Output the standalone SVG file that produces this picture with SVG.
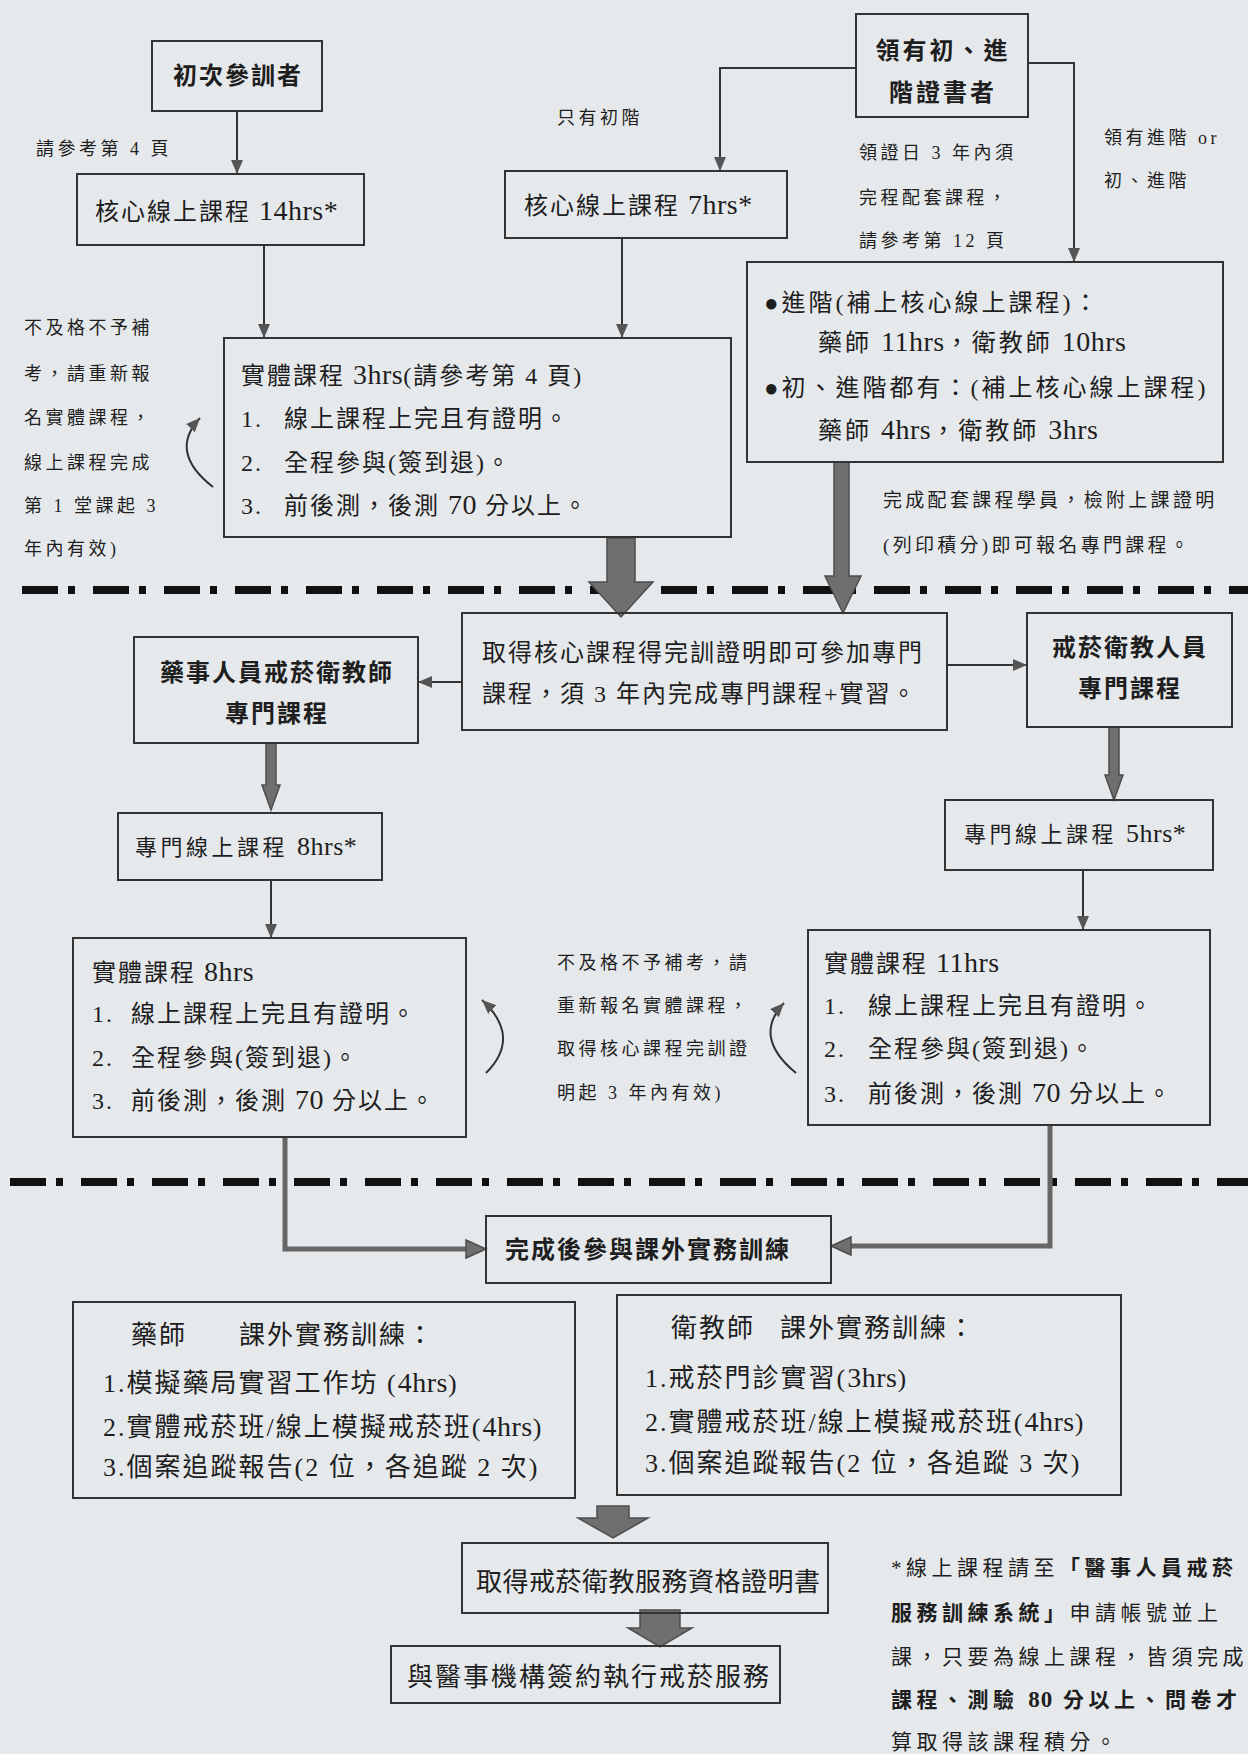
<svg xmlns="http://www.w3.org/2000/svg" width="1248" height="1754" viewBox="0 0 1248 1754">
<defs>
<style>
.box{fill:none;stroke:#333;stroke-width:2}
.t{font-family:"Liberation Serif","Noto Sans CJK TC",serif;fill:#1e1e1e}
.m{font-size:24px;letter-spacing:2px}
.m3{font-size:24px;letter-spacing:3px}
.p{font-size:26px;letter-spacing:2px}
.o{font-size:22px;letter-spacing:3.5px}
.s{font-size:18px;letter-spacing:3.5px}
.s2{font-size:19px;letter-spacing:3.3px}
.f{font-size:21px;letter-spacing:4.5px}
.b{font-weight:bold}
.L{font-size:28px;letter-spacing:0.5px}
.Lo{font-size:26px;letter-spacing:0.5px}
.Lf{font-size:23px;letter-spacing:1px}
.ln{fill:none;stroke:#333;stroke-width:2}
.gl{fill:none;stroke:#666;stroke-width:5}
.gr{fill:#6f6f6f;stroke:#4d4d4d;stroke-width:1.5}
.dash{fill:none;stroke:#111;stroke-width:8;stroke-dasharray:36 10 7 18}
.mid{text-anchor:middle}
</style>
<marker id="ah" markerWidth="14" markerHeight="12" refX="14" refY="6" orient="auto" markerUnits="userSpaceOnUse">
<path d="M0,0 L14,6 L0,12 z" fill="#555"/>
</marker>
</defs>
<rect x="0" y="0" width="1248" height="1754" fill="#e6e9ec"/>

<g id="separators">
<line class="dash" x1="22" y1="590" x2="1248" y2="590"/>
<line class="dash" x1="10" y1="1182" x2="1248" y2="1182"/>
</g>

<g id="connectors">
<path class="ln" d="M237,111 V174" marker-end="url(#ah)"/>
<path class="ln" d="M856,68 H720 V171" marker-end="url(#ah)"/>
<path class="ln" d="M1028,63 H1074 V262" marker-end="url(#ah)"/>
<path class="ln" d="M264,245 V338" marker-end="url(#ah)"/>
<path class="ln" d="M622,238 V338" marker-end="url(#ah)"/>
<path class="gr" d="M607,538 H635 V582 H653 L621,617 L589,582 H607 Z"/>
<path class="gr" d="M834,462 H849 V576 H861 L843,613 L825,576 H834 Z"/>
<path class="ln" d="M462,682 H418" marker-end="url(#ah)"/>
<path class="ln" d="M947,665 H1027" marker-end="url(#ah)"/>
<path class="gr" d="M266,743 H276 V785 H280 L271,810 L262,785 H266 Z"/>
<path class="gr" d="M1109,727 H1119 V775 H1123 L1114,800 L1105,775 H1109 Z"/>
<path class="ln" d="M271,880 V938" marker-end="url(#ah)"/>
<path class="ln" d="M1083,870 V930" marker-end="url(#ah)"/>
<path class="ln" d="M213,487 Q168,452 200,418" marker-end="url(#ah)"/>
<path class="ln" d="M486,1073 Q522,1037 482,1000" marker-end="url(#ah)"/>
<path class="ln" d="M796,1073 Q752,1037 784,1003" marker-end="url(#ah)"/>
<path class="gl" d="M285,1137 V1249 H470"/>
<path class="gr" d="M466,1240 L486,1249 L466,1258 Z"/>
<path class="gl" d="M1050,1125 V1246 H847"/>
<path class="gr" d="M851,1237 L831,1246 L851,1255 Z"/>
<path class="gr" d="M597,1506 H629 V1518 H648 L613,1538 L578,1518 H597 Z"/>
<path class="gr" d="M640,1610 H680 V1628 H692 L660,1647 L628,1628 H640 Z"/>
</g>

<g id="n_first">
<rect class="box" x="152" y="41" width="170" height="70"/>
<text class="t m b mid" x="238" y="84">初次參訓者</text>
</g>
<g id="n_cert">
<rect class="box" x="856" y="14" width="172" height="103"/>
<text class="t m3 b mid" x="943" y="59">領有初、進</text>
<text class="t m3 b mid" x="943" y="101">階證書者</text>
</g>
<g id="n_core14">
<rect class="box" x="77" y="174" width="287" height="71"/>
<text class="t m" x="95" y="220">核心線上課程 <tspan class="L">14hrs*</tspan></text>
</g>
<g id="n_core7">
<rect class="box" x="505" y="171" width="282" height="67"/>
<text class="t m" x="524" y="214">核心線上課程 <tspan class="L">7hrs*</tspan></text>
</g>
<g id="n_phys3">
<rect class="box" x="224" y="338" width="507" height="199"/>
<text class="t m" x="241" y="384">實體課程 <tspan class="L">3hrs</tspan>(請參考第 4 頁)</text>
<text class="t m" x="241" y="427">1.<tspan x="284">線上課程上完且有證明。</tspan></text>
<text class="t m" x="241" y="471">2.<tspan x="284">全程參與(簽到退)。</tspan></text>
<text class="t m" x="241" y="514">3.<tspan x="284">前後測，後測 </tspan><tspan class="L">70</tspan> 分以上。</text>
</g>
<g id="n_supp">
<rect class="box" x="747" y="262" width="476" height="200"/>
<text class="t m3" x="764" y="311">●進階(補上核心線上課程)：</text>
<text class="t m3" x="818" y="351">藥師 <tspan class="L">11hrs</tspan>，衛教師 <tspan class="L">10hrs</tspan></text>
<text class="t m3" x="764" y="396">●初、進階都有：(補上核心線上課程)</text>
<text class="t m3" x="818" y="439">藥師 <tspan class="L">4hrs</tspan>，衛教師 <tspan class="L">3hrs</tspan></text>
</g>
<g id="n_gate">
<rect class="box" x="462" y="613" width="485" height="117"/>
<text class="t m" x="482" y="661">取得核心課程得完訓證明即可參加專門</text>
<text class="t m" x="482" y="702">課程，須 3 年內完成專門課程+實習。</text>
</g>
<g id="n_pharm">
<rect class="box" x="134" y="637" width="284" height="106"/>
<text class="t m b mid" x="277" y="681">藥事人員戒菸衛教師</text>
<text class="t m b mid" x="277" y="722">專門課程</text>
</g>
<g id="n_edu">
<rect class="box" x="1027" y="613" width="205" height="114"/>
<text class="t m b mid" x="1130" y="656">戒菸衛教人員</text>
<text class="t m b mid" x="1130" y="697">專門課程</text>
</g>
<g id="n_on8">
<rect class="box" x="118" y="813" width="264" height="67"/>
<text class="t o" x="135" y="855">專門線上課程 <tspan class="Lo">8hrs*</tspan></text>
</g>
<g id="n_on5">
<rect class="box" x="945" y="800" width="268" height="70"/>
<text class="t o" x="964" y="842">專門線上課程 <tspan class="Lo">5hrs*</tspan></text>
</g>
<g id="n_phys8">
<rect class="box" x="73" y="938" width="393" height="199"/>
<text class="t m" x="92" y="981">實體課程 <tspan class="L">8hrs</tspan></text>
<text class="t m" x="92" y="1022">1.<tspan x="131">線上課程上完且有證明。</tspan></text>
<text class="t m" x="92" y="1066">2.<tspan x="131">全程參與(簽到退)。</tspan></text>
<text class="t m" x="92" y="1109">3.<tspan x="131">前後測，後測 </tspan><tspan class="L">70</tspan> 分以上。</text>
</g>
<g id="n_phys11">
<rect class="box" x="808" y="930" width="402" height="195"/>
<text class="t m" x="824" y="972">實體課程 <tspan class="L">11hrs</tspan></text>
<text class="t m" x="824" y="1014">1.<tspan x="868">線上課程上完且有證明。</tspan></text>
<text class="t m" x="824" y="1057">2.<tspan x="868">全程參與(簽到退)。</tspan></text>
<text class="t m" x="824" y="1102">3.<tspan x="868">前後測，後測 </tspan><tspan class="L">70</tspan> 分以上。</text>
</g>
<g id="n_practice">
<rect class="box" x="486" y="1216" width="345" height="67"/>
<text class="t m b" x="505" y="1258">完成後參與課外實務訓練</text>
</g>
<g id="n_pharmprac">
<rect class="box" x="73" y="1302" width="502" height="196"/>
<text class="t p" x="131" y="1344">藥師<tspan x="239">課外實務訓練：</tspan></text>
<text class="t p" x="103" y="1392">1.模擬藥局實習工作坊 (<tspan class="L">4hrs</tspan>)</text>
<text class="t p" x="103" y="1436">2.實體戒菸班/線上模擬戒菸班(<tspan class="L">4hrs</tspan>)</text>
<text class="t p" x="103" y="1476">3.個案追蹤報告(2 位，各追蹤 2 次)</text>
</g>
<g id="n_eduprac">
<rect class="box" x="617" y="1295" width="504" height="200"/>
<text class="t p" x="671" y="1337">衛教師<tspan x="780">課外實務訓練：</tspan></text>
<text class="t p" x="645" y="1387">1.戒菸門診實習(<tspan class="L">3hrs</tspan>)</text>
<text class="t p" x="645" y="1431">2.實體戒菸班/線上模擬戒菸班(<tspan class="L">4hrs</tspan>)</text>
<text class="t p" x="645" y="1472">3.個案追蹤報告(2 位，各追蹤 3 次)</text>
</g>
<g id="n_final">
<rect class="box" x="462" y="1543" width="366" height="70"/>
<text class="t" style="font-size:26px;letter-spacing:0.5px" x="476" y="1591">取得戒菸衛教服務資格證明書</text>
</g>
<g id="n_sign">
<rect class="box" x="391" y="1646" width="389" height="57"/>
<text class="t p" x="407" y="1686">與醫事機構簽約執行戒菸服務</text>
</g>

<g id="notes">
<text class="t s" x="36" y="155">請參考第 4 頁</text>
<text class="t s" x="557" y="124">只有初階</text>
<text class="t s" x="859" y="159">領證日 3 年內須</text>
<text class="t s" x="859" y="204">完程配套課程，</text>
<text class="t s" x="859" y="247">請參考第 12 頁</text>
<text class="t s" x="1104" y="144">領有進階 or</text>
<text class="t s" x="1104" y="187">初、進階</text>
<text class="t s" x="24" y="334">不及格不予補</text>
<text class="t s" x="24" y="380">考，請重新報</text>
<text class="t s" x="24" y="424">名實體課程，</text>
<text class="t s" x="24" y="469">線上課程完成</text>
<text class="t s" x="24" y="512">第 1 堂課起 3</text>
<text class="t s" x="24" y="555">年內有效)</text>
<text class="t s2" x="883" y="507">完成配套課程學員，檢附上課證明</text>
<text class="t s2" x="883" y="552">(列印積分)即可報名專門課程。</text>
<text class="t s" x="557" y="969">不及格不予補考，請</text>
<text class="t s" x="557" y="1012">重新報名實體課程，</text>
<text class="t s" x="557" y="1055">取得核心課程完訓證</text>
<text class="t s" x="557" y="1099">明起 3 年內有效)</text>
<text class="t f" x="891" y="1575">*線上課程請至<tspan class="b">「醫事人員戒菸</tspan></text>
<text class="t f" x="891" y="1620"><tspan class="b">服務訓練系統」</tspan>申請帳號並上</text>
<text class="t f" x="891" y="1664">課，只要為線上課程，皆須完成</text>
<text class="t f b" x="891" y="1707">課程、測驗 <tspan class="Lf">80</tspan> 分以上、問卷才</text>
<text class="t f" x="891" y="1749">算取得該課程積分。</text>
</g>
</svg>
